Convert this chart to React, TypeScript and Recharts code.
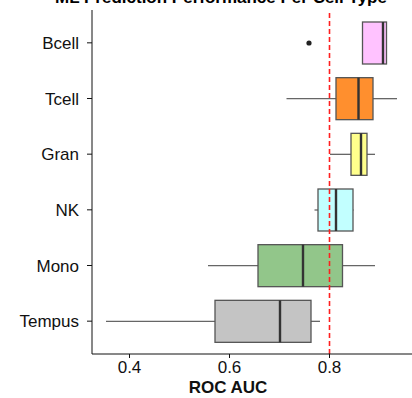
import * as React from "react"
import {
  ComposedChart,
  Bar,
  XAxis,
  YAxis,
  ReferenceLine,
} from "recharts"

const cellTypes = ["Bcell", "Tcell", "Gran", "NK", "Mono", "Tempus"]
const whiskerLow = [0.866, 0.714, 0.801, 0.77, 0.557, 0.353]
const lowerQuartile = [0.866, 0.813, 0.843, 0.777, 0.657, 0.571]
const medians = [0.907, 0.858, 0.863, 0.813, 0.747, 0.701]
const upperQuartile = [0.914, 0.887, 0.875, 0.847, 0.826, 0.763]
const whiskerHigh = [0.915, 0.935, 0.891, 0.848, 0.891, 0.781]
const outliers: number[][] = [[0.759], [], [], [], [], []]
const boxColors = ["#ffc2ff", "#ff8f2e", "#ffff8c", "#c2ffff", "#92c68a", "#c4c4c4"]
const xTicks = [0.4, 0.6, 0.8]
const threshold = 0.8

const FONT = "'Liberation Sans', Arial, Helvetica, sans-serif"

const data = cellTypes.map((name, i) => {
  const lo = Math.min(whiskerLow[i], ...outliers[i])
  const hi = Math.max(whiskerHigh[i], ...outliers[i])
  return {
    name,
    range: [lo, hi],
    lo,
    hi,
    wLow: whiskerLow[i],
    q1: lowerQuartile[i],
    median: medians[i],
    q3: upperQuartile[i],
    wHigh: whiskerHigh[i],
    outliers: outliers[i],
    fill: boxColors[i],
  }
})

// the ranged bar spans lo..hi, so map any value inside it to pixels linearly
function BoxShape(props: any) {
  const { x, y, width, height, payload } = props
  const px = (v: number) =>
    payload.hi === payload.lo ? x : x + ((v - payload.lo) / (payload.hi - payload.lo)) * width
  const cy = y + height / 2
  return (
    <g>
      <line x1={px(payload.wLow)} x2={px(payload.q1)} y1={cy} y2={cy} stroke="#666" strokeWidth={1.3} />
      <line x1={px(payload.q3)} x2={px(payload.wHigh)} y1={cy} y2={cy} stroke="#666" strokeWidth={1.3} />
      <rect
        x={px(payload.q1)}
        y={y}
        width={px(payload.q3) - px(payload.q1)}
        height={height}
        fill={payload.fill}
        stroke="#555"
        strokeWidth={1.3}
      />
      <line
        x1={px(payload.median)}
        x2={px(payload.median)}
        y1={y}
        y2={y + height}
        stroke="#333"
        strokeWidth={2.4}
      />
      {payload.outliers.map((o: number, k: number) => (
        <circle key={k} cx={px(o)} cy={cy} r={2.6} fill="#222" />
      ))}
    </g>
  )
}

export default function App() {
  return (
    <div style={{ position: "absolute", left: 0, top: 0, width: 412, height: 398, fontFamily: FONT, overflow: "hidden" }}>
      <div
        style={{
          position: "absolute",
          top: -12,
          left: 37,
          width: 368,
          textAlign: "center",
          fontWeight: "bold",
          fontSize: 17,
          whiteSpace: "nowrap",
          color: "#000",
        }}
      >
        ML Prediction Performance Per Cell Type
      </div>
      <ComposedChart
        width={412}
        height={398}
        data={data}
        layout="vertical"
        margin={{ top: 10, right: 0, bottom: 0, left: 0 }}
      >
        <XAxis
          type="number"
          domain={[0.325, 0.965]}
          ticks={xTicks}
          allowDataOverflow
          tickFormatter={(v) => v.toFixed(1)}
          tick={{ fontSize: 17, fill: "#111" }}
          axisLine={{ stroke: "#111" }}
          tickLine={{ stroke: "#111" }}
          tickSize={4}
          tickMargin={3}
          height={44}
          label={(p: any) => {
            const vb = p.viewBox
            return (
              <text
                x={228}
                y={vb.y + 39}
                textAnchor="middle"
                fontWeight="bold"
                fontSize={17}
                fill="#111"
              >
                ROC AUC
              </text>
            )
          }}
        />
        <YAxis
          type="category"
          dataKey="name"
          width={92}
          padding={{ top: 5, bottom: 5 }}
          tick={{ fontSize: 17, fill: "#111" }}
          axisLine={{ stroke: "#111" }}
          tickLine={{ stroke: "#111" }}
          tickSize={5}
          tickMargin={8}
        />
        <Bar dataKey="range" barSize={42} shape={<BoxShape />} isAnimationActive={false} />
        <ReferenceLine x={threshold} stroke="#ff1f1f" strokeWidth={1.6} strokeDasharray="5 3" />
      </ComposedChart>
    </div>
  )
}
